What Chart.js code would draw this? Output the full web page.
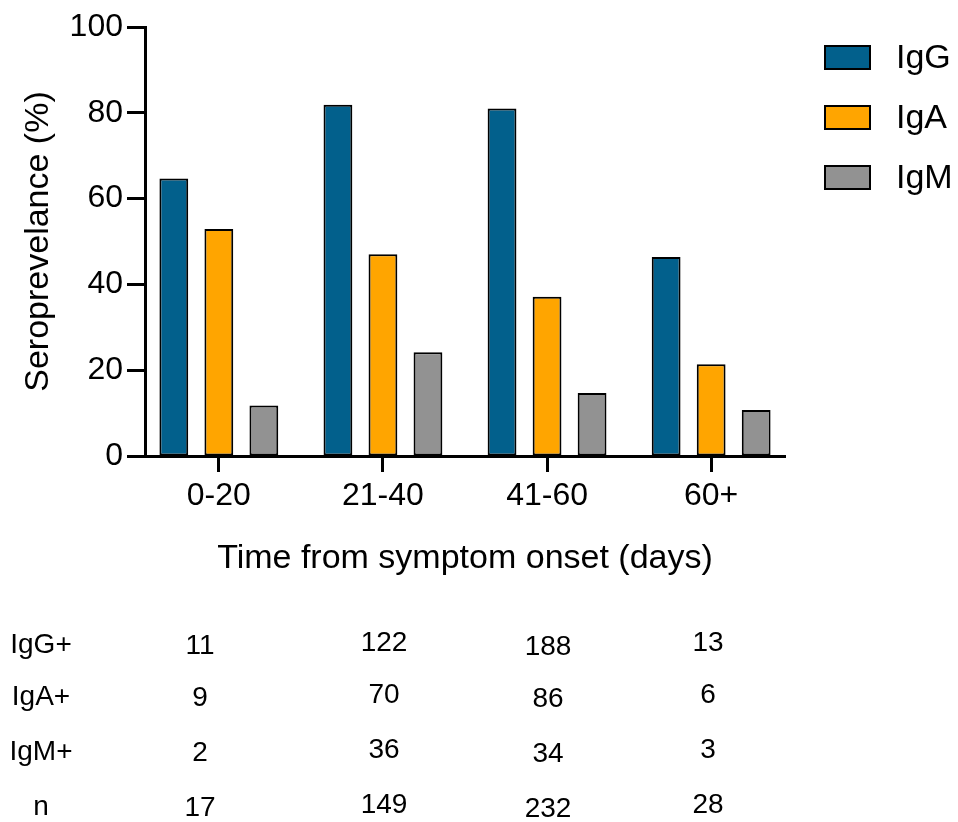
<!DOCTYPE html>
<html>
<head>
<meta charset="utf-8">
<script src="https://cdn.jsdelivr.net/npm/chart.js@4"></script>
<style>
  html, body { margin: 0; padding: 0; background: #ffffff; }
  #wrap { position: relative; width: 958px; height: 822px; }
</style>
</head>
<body>
<div id="wrap"><canvas id="c"></canvas></div>
<script>
// ---- data ----
const categories = ['0-20', '21-40', '41-60', '60+'];
const seriesNames = ['IgG', 'IgA', 'IgM'];
const igG = [64.7, 81.9, 81.0, 46.4];
const igA = [52.9, 47.0, 37.1, 21.4];
const igM = [11.8, 24.2, 14.7, 10.7];
const yTicks = [0, 20, 40, 60, 80, 100];
const tableRowLabels = ['IgG+', 'IgA+', 'IgM+', 'n'];
const igGPositive = [11, 122, 188, 13];
const igAPositive = [9, 70, 86, 6];
const igMPositive = [2, 36, 34, 3];
const nTotal = [17, 149, 232, 28];

// ---- styles ----
const FONT = '"Liberation Sans", Arial, Helvetica, sans-serif';
const colors = ['#02608C', '#FFA500', '#929292'];
const seriesValues = [igG, igA, igM];
const tableRows = [igGPositive, igAPositive, igMPositive, nTotal];

const datasets = seriesNames.map((name, s) => ({
  label: name,
  data: seriesValues[s].map((v, i) => ({ x: i, y: v })),
  backgroundColor: colors[s],
  borderColor: '#000000',
  borderWidth: 2,
  borderSkipped: false,
  barPercentage: 0.64,
  categoryPercentage: 0.823
}));

const extrasPlugin = {
  id: 'extras',
  afterDraw(chart) {
    const ctx = chart.ctx;
    ctx.save();
    // legend
    const items = chart.data.datasets;
    items.forEach((ds, i) => {
      const cy = 57.5 + i * 60;
      ctx.fillStyle = ds.backgroundColor;
      ctx.fillRect(824, cy - 12.5, 47, 25);
      ctx.lineWidth = 2;
      ctx.strokeStyle = '#000000';
      ctx.strokeRect(825, cy - 11.5, 45, 23);
      ctx.fillStyle = '#000000';
      ctx.font = '34px ' + FONT;
      ctx.textAlign = 'left';
      ctx.textBaseline = 'middle';
      ctx.fillText(ds.label, 896, cy + 1);
    });
    // table under the chart
    const colX = [200, 384, 548, 708];
    const colDy = [1, -2, 2, -2];
    const rowY = [645, 697, 752, 807];
    ctx.font = '28px ' + FONT;
    ctx.textBaseline = 'middle';
    ctx.textAlign = 'center';
    tableRowLabels.forEach((lab, r) => {
      ctx.fillText(lab, 41, rowY[r]);
      tableRows[r].forEach((v, c) => {
        ctx.fillText(String(v), colX[c], rowY[r] + colDy[c]);
      });
    });
    ctx.restore();
  }
};

new Chart(document.getElementById('c'), {
  type: 'bar',
  data: { datasets },
  options: {
    responsive: true,
    maintainAspectRatio: false,
    animation: false,
    layout: { padding: { left: 0, top: 27, right: 173, bottom: 236 } },
    plugins: {
      legend: { display: false },
      tooltip: { enabled: false }
    },
    scales: {
      x: {
        type: 'linear',
        min: -0.45,
        max: 3.45,
        offset: false,
        afterBuildTicks: (scale) => { scale.ticks = categories.map((_, i) => ({ value: i })); },
        afterFit: (scale) => { scale.height = 130; },
        ticks: {
          callback: (v) => categories[v],
          font: { family: FONT, size: 32 },
          color: '#000000',
          padding: 5,
          maxRotation: 0,
          autoSkip: false
        },
        grid: {
          offset: false,
          drawOnChartArea: false,
          drawTicks: true,
          tickLength: 16,
          tickWidth: 3,
          tickColor: '#000000'
        },
        border: { display: true, color: '#000000', width: 3 },
        title: {
          display: true,
          text: 'Time from symptom onset (days)',
          font: { family: FONT, size: 34 },
          color: '#000000',
          padding: { top: 0, bottom: 7 }
        }
      },
      y: {
        min: 0,
        max: 100,
        afterBuildTicks: (scale) => { scale.ticks = yTicks.map(v => ({ value: v })); },
        afterFit: (scale) => { scale.width = 145; },
        ticks: {
          font: { family: FONT, size: 32 },
          color: '#000000',
          padding: 4
        },
        grid: {
          drawOnChartArea: false,
          drawTicks: true,
          tickLength: 18,
          tickWidth: 3,
          tickColor: '#000000'
        },
        border: { display: true, color: '#000000', width: 3 },
        title: {
          display: true,
          text: 'Seroprevelance (%)',
          font: { family: FONT, size: 34 },
          color: '#000000',
          padding: { top: 18, bottom: 0 }
        }
      }
    }
  },
  plugins: [extrasPlugin]
});
</script>
</body>
</html>
